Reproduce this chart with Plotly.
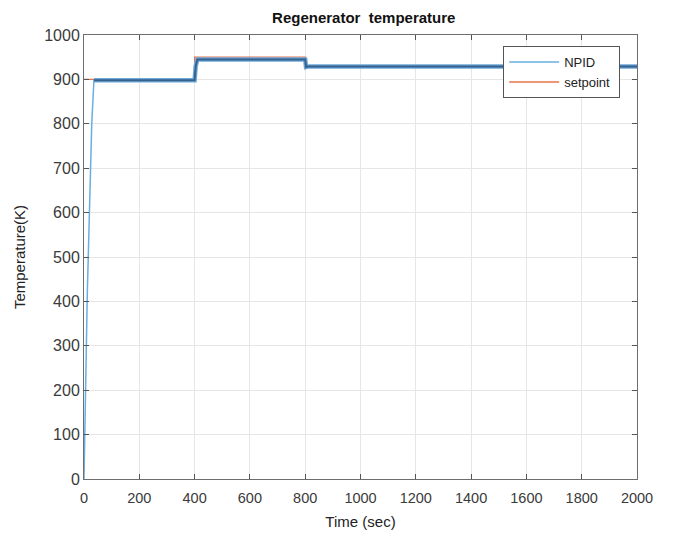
import plotly.graph_objects as go

# NPID response key points (time s, temperature K)
npid_time = [0, 12, 28, 36, 400, 404, 410, 800, 803, 810, 2000]
npid_temp = [0, 420, 800, 898, 898, 930, 945, 945, 928, 929, 929]

# Setpoint profile
sp_time = [0, 400, 400, 800, 800, 2000]
sp_temp = [900, 900, 950, 950, 930, 930]

x_ticks = list(range(0, 2001, 200))
y_ticks = list(range(0, 1001, 100))

FONT = "Liberation Sans, Arial"

fig = go.Figure()
fig.add_trace(go.Scatter(x=sp_time, y=sp_temp, mode="lines", name="setpoint",
                         line=dict(color="#E8734A", width=1.3), showlegend=False))
# thin response line (rise)
fig.add_trace(go.Scatter(x=npid_time, y=npid_temp, mode="lines", name="NPID",
                         line=dict(color="#6AAEE0", width=1.5), showlegend=False))
# oscillation band on the plateaus (from settling onward)
fig.add_trace(go.Scatter(x=npid_time[3:], y=npid_temp[3:], mode="lines", name="NPID",
                         line=dict(color="#6FA8D8", width=4.5), showlegend=False))
fig.add_trace(go.Scatter(x=npid_time[3:], y=npid_temp[3:], mode="lines", name="NPID",
                         line=dict(color="#35618F", width=2), showlegend=False))
# legend entries
fig.add_trace(go.Scatter(x=[None], y=[None], mode="lines", name="NPID",
                         line=dict(color="#6AAEE0", width=1.5)))
fig.add_trace(go.Scatter(x=[None], y=[None], mode="lines", name="setpoint ",
                         line=dict(color="#E8734A", width=1.5)))

axis_common = dict(showgrid=True, gridcolor="#e6e6e6", gridwidth=1,
                   showline=True, linecolor="#6e6e6e", linewidth=1, mirror="ticks",
                   ticks="inside", ticklen=5, tickcolor="#555555", automargin=False,
                   zeroline=False)

fig.update_layout(
    width=665, height=525,
    margin=dict(l=76, r=36, t=27, b=54),
    plot_bgcolor="white", paper_bgcolor="white",
    title=dict(text="<b>Regenerator  temperature</b>", x=0.535, xanchor="center",
               y=0.981, yanchor="middle",
               font=dict(family=FONT, size=15, color="#111111")),
    xaxis=dict(range=[0, 2000], tickvals=x_ticks, ticklabelstandoff=6, **axis_common,
               tickfont=dict(family=FONT, size=14.5, color="#3a3a3a"),
               title=dict(text="Time (sec)", standoff=11,
                          font=dict(family=FONT, size=15, color="#222222"))),
    yaxis=dict(range=[0, 1000], tickvals=y_ticks, **axis_common,
               tickfont=dict(family=FONT, size=16, color="#3a3a3a"),
               title=dict(text="Temperature(K)", standoff=14,
                          font=dict(family=FONT, size=15, color="#222222"))),
    legend=dict(x=0.758, y=0.975, xanchor="left", yanchor="top",
                bgcolor="white", bordercolor="#555555", borderwidth=1,
                font=dict(family=FONT, size=13, color="#222222"),
                itemwidth=50, tracegroupgap=0),
    showlegend=True,
)

fig.write_html("out.html")
